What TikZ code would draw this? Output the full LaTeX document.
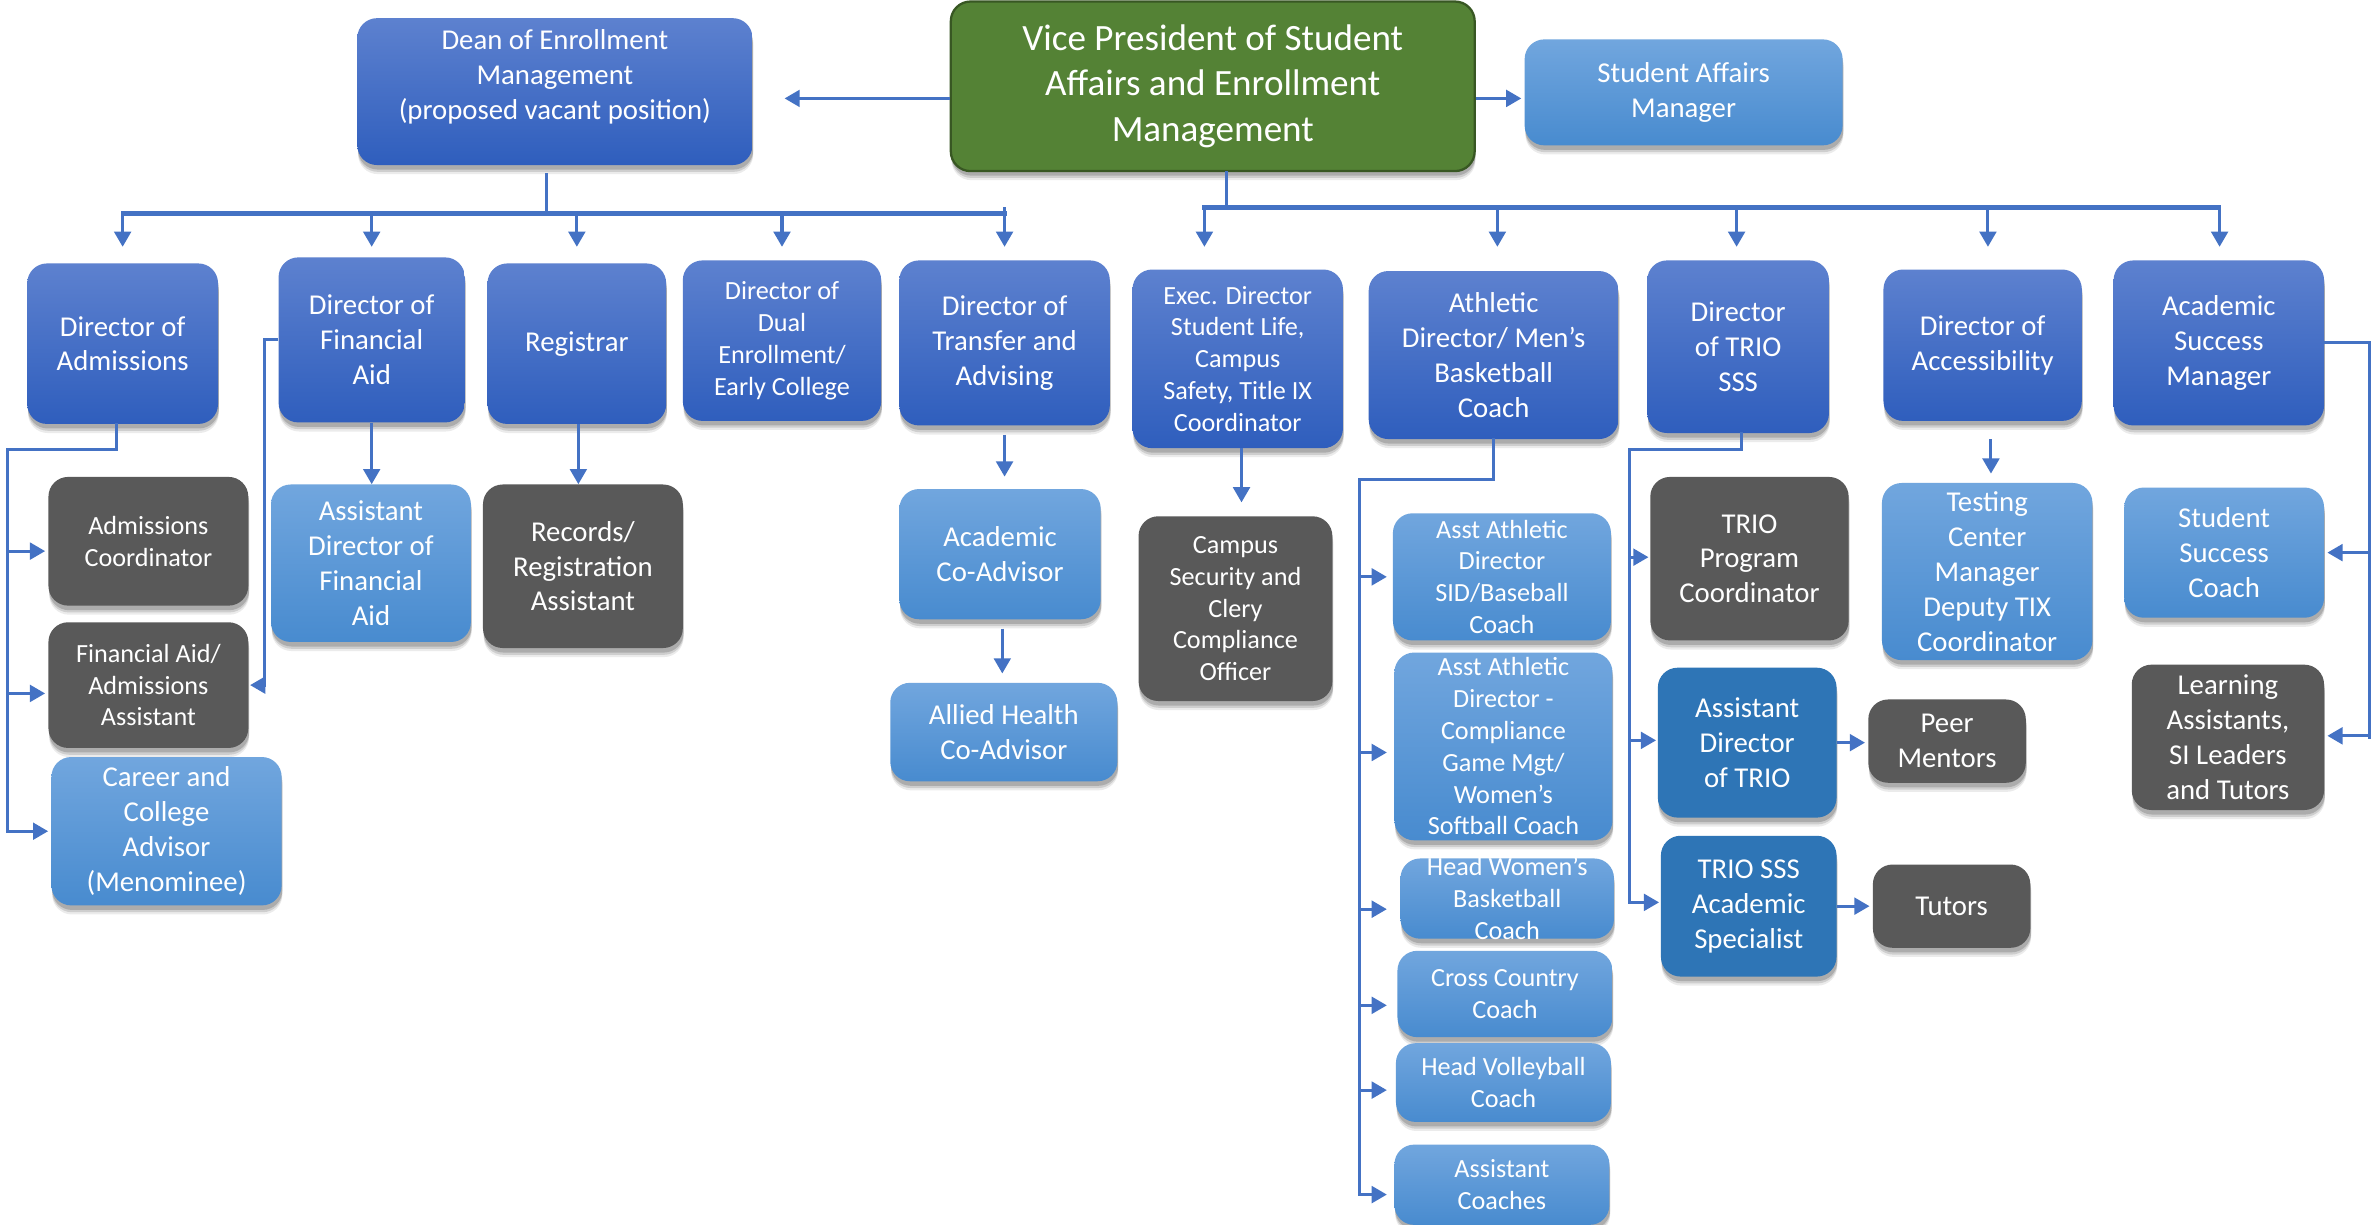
\documentclass[tikz,border=0pt]{standalone}
\usepackage{fontspec}
\setmainfont{Carlito}
\usetikzlibrary{arrows.meta,shadows}

\definecolor{dkTop}{RGB}{93,129,207}
\definecolor{dkBot}{RGB}{47,94,189}
\definecolor{ltTop}{RGB}{113,166,222}
\definecolor{ltBot}{RGB}{72,139,207}
\definecolor{boxGrey}{RGB}{89,89,89}
\definecolor{midBlue}{RGB}{46,117,182}
\definecolor{vpGreen}{RGB}{84,130,53}
\definecolor{vpEdge}{RGB}{56,87,35}
\definecolor{connBlue}{RGB}{68,114,196}

\newcommand{\fnorm}{\fontsize{19}{23}\selectfont}
\newcommand{\fsmall}{\fontsize{17.3}{21}\selectfont}
\newcommand{\fvp}{\fontsize{24.5}{30}\selectfont}

\tikzset{
  box/.style={rounded corners=13pt, align=center, text=white, inner sep=0pt, font=\fnorm,
    drop shadow={shadow xshift=0.5pt, shadow yshift=-6pt, opacity=0.08, fill=black},
    drop shadow={shadow xshift=0.5pt, shadow yshift=-4.5pt, opacity=0.12, fill=black},
    drop shadow={shadow xshift=0.5pt, shadow yshift=-3pt, opacity=0.16, fill=black}},
  sz/.style 2 args={minimum width=#1pt, minimum height=#2pt},
  dk/.style={box, top color=dkTop, bottom color=dkBot},
  lt/.style={box, top color=ltTop, bottom color=ltBot},
  gr/.style={box, fill=boxGrey},
  md/.style={box, fill=midBlue},
  sm/.style={font=\fsmall},
  line/.style={draw=connBlue, line width=2pt, line cap=rect},
  conn/.style={draw=connBlue, line width=2pt, -{Triangle[width=11pt,length=10pt]}},
  bus/.style={line, line width=2.8pt},
}

\begin{document}
\begin{tikzpicture}[x=1pt,y=-1pt]
\useasboundingbox (0,0) rectangle (1568,809);
\fill[white] (0,0) rectangle (1568,809);

% ---- top level ----
\node[box, sz={346}{112}, fill=vpGreen, draw=vpEdge, line width=1.5pt, font=\fvp] (vp) at (801,57)
  {Vice President of Student\\Affairs and Enrollment\\Management};
\node[dk, sz={261}{97}] (dean) at (366.5,60.5)
  {Dean of Enrollment\\Management\\(proposed vacant position)\\\mbox{}};
\node[lt, sz={210}{70}] (sam) at (1112,61) {Student Affairs\\Manager};

% ---- directors under the dean ----
\node[dk, sz={126}{106}] (adm) at (81,227) {Director of\\Admissions};
\node[dk, sz={123}{109}] (fa) at (245.5,224.5) {Director of\\Financial\\Aid};
\node[dk, sz={118}{106}] (reg) at (381,227) {Registrar};
\node[dk, sm, sz={131}{106}] (dual) at (516.5,225) {Director of\\Dual\\Enrollment/\\Early College};
\node[dk, sz={139}{109}] (transfer) at (663.5,226.5) {Director of\\Transfer and\\Advising};

% ---- directors under the vice president ----
\node[dk, sm, sz={139}{118}] (exec) at (817.5,237)
  {Exec. Director\\Student Life,\\Campus\\Safety, Title IX\\Coordinator};
\node[dk, sz={165}{111}] (athl) at (986.5,234.5) {Athletic\\Director/ Men’s\\Basketball\\Coach};
\node[dk, sz={120}{114}] (trio) at (1148,229) {Director\\of TRIO\\SSS};
\node[dk, sz={131}{100}] (access) at (1309.5,228) {Director of\\Accessibility};
\node[dk, sz={139}{109}] (asm) at (1465.5,226.5) {Academic\\Success\\Manager};

% ---- staff: admissions, financial aid, registrar ----
\node[gr, sm, sz={132}{85}] (admco) at (98,357.5) {Admissions\\Coordinator};
\node[gr, sm, sz={132}{83}] (faasst) at (98,452.5) {Financial Aid/\\Admissions\\Assistant};
\node[lt, sz={152}{98}] (career) at (110,549) {Career and\\College\\Advisor\\(Menominee)};
\node[lt, sz={132}{104}] (asstfa) at (245,372) {Assistant\\Director of\\Financial\\Aid};
\node[gr, sz={132}{108}] (records) at (385,374) {Records/\\Registration\\Assistant};

% ---- staff: advising ----
\node[lt, sz={133}{86}] (acad) at (660.5,366) {Academic\\Co-Advisor};
\node[lt, sz={150}{65}] (allied) at (663,483.5) {Allied Health\\Co-Advisor};

% ---- staff: student life ----
\node[gr, sm, sz={128}{122}] (campus) at (816,402)
  {Campus\\Security and\\Clery\\Compliance\\Officer};

% ---- staff: athletics ----
\node[lt, sm, sz={144}{84}] (aad1) at (992,381) {Asst Athletic\\Director\\SID/Baseball\\Coach};
\node[lt, sm, sz={144}{124}] (aad2) at (993,493)
  {Asst Athletic\\Director -\\Compliance\\Game Mgt/\\Women’s\\Softball Coach};
\node[lt, sz={141}{53}] (hwb) at (995.5,593.5) {};
\node[sm, text=white, align=center, inner sep=0pt] (hwbtext) at (hwb.center)
  {Head Women’s\\Basketball\\Coach};
\node[lt, sm, sz={142}{57}] (xc) at (994,656.5) {Cross Country\\Coach};
\node[lt, sm, sz={142}{52}] (hv) at (993,715) {Head Volleyball\\Coach};
\node[lt, sm, sz={142}{53}] (ac) at (992,782.5) {Assistant\\Coaches};

% ---- staff: TRIO ----
\node[gr, sz={131}{108}] (tpc) at (1155.5,369) {TRIO\\Program\\Coordinator};
\node[md, sz={118}{99}] (adt) at (1154,490.5) {Assistant\\Director\\of TRIO};
\node[md, sz={116}{93}] (sss) at (1155,598.5) {TRIO SSS\\Academic\\Specialist};
\node[gr, sz={104}{55}] (peer) at (1286,489.5) {Peer\\Mentors};
\node[gr, sz={104}{55}] (tutors) at (1289,598.5) {Tutors};

% ---- staff: accessibility, academic success ----
\node[lt, sz={139}{117}] (testing) at (1312.5,377.5)
  {Testing\\Center\\Manager\\Deputy TIX\\Coordinator};
\node[lt, sz={132}{86}] (ssc) at (1469,365) {Student\\Success\\Coach};
\node[gr, sz={127}{96}] (la) at (1471.5,487) {Learning\\Assistants,\\SI Leaders\\and Tutors};

% ================= connectors =================
\coordinate (tipRow) at (0,163);

% vice president to the dean and the manager
\draw[conn] ([yshift=-8pt]vp.west) -- ([xshift=21pt,yshift=-4.5pt]dean.east);
\draw[conn] ([yshift=-8pt]vp.east) -- ([xshift=-2pt,yshift=-4pt]sam.west);

% dean's bus
\coordinate (dbus) at (361,141);
\draw[line] ([xshift=-5.5pt,yshift=-6pt]dean.south) -- (dbus);
\draw[bus] (adm.north |- dbus) -- (transfer.north |- dbus);
\foreach \n in {adm,fa,reg,dual}
  \draw[conn] (\n.north |- dbus) -- (\n.north |- tipRow);
\draw[conn] ([yshift=4pt]transfer.north |- dbus) -- (transfer.north |- tipRow);

% vice president's bus
\coordinate (vbus) at (810,137);
\draw[line] ([xshift=9pt]vp.south) -- (vbus);
\draw[bus] ([xshift=-22pt]exec.north |- vbus) -- (asm.north |- vbus);
\foreach \n/\dx in {exec/-22pt, athl/2.5pt, trio/-1pt, access/3.5pt, asm/0.5pt}
  \draw[conn] ([xshift=\dx]\n.north |- vbus) -- ([xshift=\dx]\n.north |- tipRow);

% admissions
\coordinate (admL) at (5,297);
\draw[line] ([xshift=-4pt]adm.south) |- (admL) -- (admL |- career.west);
\draw[conn] ([yshift=-6.5pt]admL |- admco.west) -- ([xshift=-2pt,yshift=-6.5pt]admco.west);
\draw[conn] ([yshift=-5.5pt]admL |- faasst.west) -- ([xshift=-2pt,yshift=-5.5pt]faasst.west);
\draw[conn] (admL |- career.west) -- ([xshift=-2pt]career.west);

% financial aid
\draw[conn] (fa.west) -- ++(-9,0) |- ([xshift=1pt]faasst.east);
\draw[conn] (fa.south) -- (fa.south |- asstfa.north);

% registrar
\draw[conn] ([xshift=1pt]reg.south) -- ([xshift=1pt]reg.south |- records.north);

% transfer and advising
\draw[conn] ([yshift=-6pt]transfer.south) -- ([yshift=8pt]transfer.south |- acad.north);
\draw[conn] ([xshift=1.5pt,yshift=-6pt]acad.south) -- ([xshift=1.5pt,yshift=6pt]acad.south |- allied.north);

% student life
\draw[conn] ([xshift=2.5pt]exec.south) -- ([xshift=2.5pt,yshift=9pt]exec.south |- campus.north);

% athletics
\coordinate (athL) at (898,317);
\coordinate (athTip) at (916,0);
\draw[line] (athl.south) |- (athL) -- ([yshift=-6.5pt]athL |- ac.west);
\foreach \n/\dy in {aad1/0pt, aad2/-4pt, hwb/-7pt, xc/-7.5pt, hv/-5pt, ac/-6.5pt}
  \draw[conn] ([yshift=\dy]athL |- \n.west) -- ([yshift=\dy]athTip |- \n.west);

% TRIO
\coordinate (trioL) at (1076,297);
\draw[line] ([xshift=2pt]trio.south) |- (trioL) -- ([yshift=2.5pt]trioL |- sss.west);
\foreach \n/\dy in {tpc/1pt, adt/1.5pt, sss/2.5pt}
  \draw[conn] ([yshift=\dy]trioL |- \n.west) -- ([xshift=-1pt,yshift=\dy]\n.west);
\draw[conn] (adt.east) -- ([xshift=-2pt]peer.west |- adt.east);
\draw[conn] (sss.east) -- ([xshift=-2pt]tutors.west |- sss.east);

% accessibility
\draw[conn] ([xshift=5.5pt,yshift=-12pt]access.south) -- ([xshift=5.5pt,yshift=6pt]access.south |- testing.north);

% academic success
\coordinate (asmR) at (1565,226);
\draw[line] (asm.east) -- (asm.east -| asmR) -- (asmR |- la.east);
\draw[conn] (asmR |- ssc.east) -- ([xshift=2pt]ssc.east);
\draw[conn] ([yshift=1pt]asmR |- la.east) -- ([xshift=2pt,yshift=1pt]la.east);

\end{tikzpicture}
\end{document}
